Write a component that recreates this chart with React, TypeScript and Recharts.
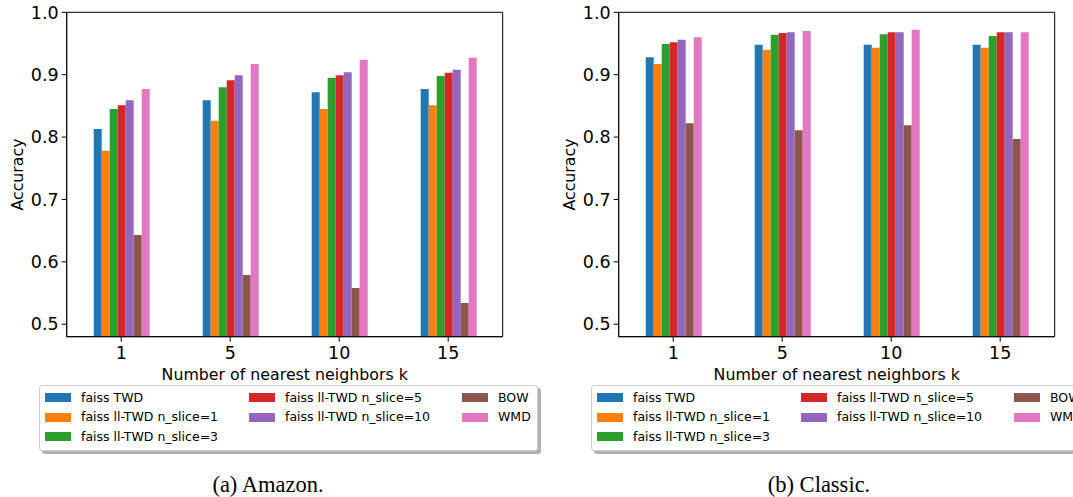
import { BarChart, Bar, XAxis, YAxis, ReferenceArea } from "recharts";

// k values on the x axis
const kValues = ["1", "5", "10", "15"];
const yTicks = [0.5, 0.6, 0.7, 0.8, 0.9, 1.0];

const seriesNames = [
  "faiss TWD",
  "faiss ll-TWD n_slice=1",
  "faiss ll-TWD n_slice=3",
  "faiss ll-TWD n_slice=5",
  "faiss ll-TWD n_slice=10",
  "BOW",
  "WMD",
];
const seriesColors = ["#1f77b4", "#ff7f0e", "#2ca02c", "#d62728", "#9467bd", "#8c564b", "#e377c2"];

// (a) Amazon
const amazonTWD = [0.813, 0.859, 0.872, 0.877];
const amazonSlice1 = [0.778, 0.826, 0.845, 0.851];
const amazonSlice3 = [0.845, 0.88, 0.895, 0.898];
const amazonSlice5 = [0.851, 0.891, 0.899, 0.903];
const amazonSlice10 = [0.859, 0.899, 0.904, 0.908];
const amazonBOW = [0.643, 0.579, 0.558, 0.534];
const amazonWMD = [0.877, 0.917, 0.924, 0.927];

// (b) Classic
const classicTWD = [0.928, 0.948, 0.948, 0.948];
const classicSlice1 = [0.917, 0.94, 0.943, 0.943];
const classicSlice3 = [0.949, 0.964, 0.965, 0.962];
const classicSlice5 = [0.952, 0.967, 0.968, 0.968];
const classicSlice10 = [0.956, 0.968, 0.968, 0.968];
const classicBOW = [0.822, 0.811, 0.819, 0.797];
const classicWMD = [0.96, 0.97, 0.972, 0.968];

const buildRows = (cols: number[][]) =>
  kValues.map((k, i) => {
    const row: Record<string, any> = { k };
    seriesNames.forEach((name, j) => {
      row[name] = cols[j][i];
    });
    return row;
  });

const amazonData = buildRows([amazonTWD, amazonSlice1, amazonSlice3, amazonSlice5, amazonSlice10, amazonBOW, amazonWMD]);
const classicData = buildRows([classicTWD, classicSlice1, classicSlice3, classicSlice5, classicSlice10, classicBOW, classicWMD]);

const FONT = "'DejaVu Sans', sans-serif";

// legend layout: column-major, 3 columns
const legendCols = [[0, 1, 2], [3, 4], [5, 6]];
const legendColX = [5, 209, 422];
const legendRowY = [11.5, 31, 50.5];

const Legend = ({ left }: { left: number }) => (
  <div
    style={{
      position: "absolute",
      left,
      top: 385,
      width: 497,
      height: 64,
      border: "1px solid #ccc",
      borderRadius: 3,
      background: "#fff",
      boxShadow: "3px 3px 0 rgba(0,0,0,0.3)",
      fontFamily: FONT,
      fontSize: 12.5,
      color: "#000",
    }}
  >
    {legendCols.map((col, ci) =>
      col.map((si, ri) => (
        <div key={si}>
          <div
            style={{
              position: "absolute",
              left: legendColX[ci],
              top: legendRowY[ri] - 4.5,
              width: 26,
              height: 9,
              background: seriesColors[si],
            }}
          />
          <div
            style={{
              position: "absolute",
              left: legendColX[ci] + 36,
              top: legendRowY[ri] - 8,
              lineHeight: "16px",
              whiteSpace: "nowrap",
            }}
          >
            {seriesNames[si]}
          </div>
        </div>
      ))
    )}
  </div>
);

const Chart = ({ data, left }: { data: any[]; left: number }) => (
  <div style={{ position: "absolute", left, top: 0 }}>
    <BarChart
      width={540}
      height={390}
      data={data}
      margin={{ top: 12.3, right: 37.3, left: 0, bottom: 0 }}
      barCategoryGap="25%"
      barGap={0}
    >
      <XAxis
        dataKey="k"
        height={53.3}
        tickSize={5}
        tickMargin={5}
        axisLine={{ stroke: "#000" }}
        tickLine={{ stroke: "#000" }}
        tick={{ fontSize: 17.5, fill: "#000", fontFamily: FONT }}
        label={{
          value: "Number of nearest neighbors k",
          position: "insideBottom",
          offset: 10,
          fontSize: 15.8,
          fill: "#000",
          fontFamily: FONT,
        }}
      />
      <YAxis
        type="number"
        domain={[0.48, 1.0]}
        ticks={yTicks}
        allowDataOverflow
        width={66.7}
        tickSize={5}
        tickMargin={3}
        axisLine={{ stroke: "#000" }}
        tickLine={{ stroke: "#000" }}
        tickFormatter={(v: number) => v.toFixed(1)}
        tick={{ fontSize: 17.5, fill: "#000", fontFamily: FONT }}
        label={(props: any) => {
          const vb = props.viewBox || { x: 0, y: 12.3, height: 324.4 };
          const cx = vb.x + 17.5;
          const cy = vb.y + vb.height / 2;
          return (
            <text
              x={cx}
              y={cy}
              transform={`rotate(-90 ${cx} ${cy})`}
              textAnchor="middle"
              dominantBaseline="central"
              fontSize={15.8}
              fill="#000"
              fontFamily={FONT}
            >
              Accuracy
            </text>
          );
        }}
      />
      {seriesNames.map((name, i) => (
        <Bar key={name} dataKey={name} fill={seriesColors[i]} barSize={8} isAnimationActive={false} />
      ))}
      <ReferenceArea y1={0.48} y2={1.0} fill="none" stroke="#000" strokeWidth={1} />
    </BarChart>
  </div>
);

export default function App() {
  return (
    <div
      style={{
        position: "absolute",
        left: 0,
        top: 0,
        width: 1073,
        height: 497,
        overflow: "hidden",
        background: "#fff",
      }}
    >
      <Chart data={amazonData} left={0} />
      <Chart data={classicData} left={552} />
      <Legend left={39} />
      <Legend left={591} />
      <div
        style={{
          position: "absolute",
          left: 268,
          top: 474,
          transform: "translateX(-50%)",
          fontFamily: "'Liberation Serif', serif",
          fontSize: 22.5,
          lineHeight: "22px",
          whiteSpace: "nowrap",
        }}
      >
        (a) Amazon.
      </div>
      <div
        style={{
          position: "absolute",
          left: 819,
          top: 474,
          transform: "translateX(-50%)",
          fontFamily: "'Liberation Serif', serif",
          fontSize: 22.5,
          lineHeight: "22px",
          whiteSpace: "nowrap",
        }}
      >
        (b) Classic.
      </div>
    </div>
  );
}
